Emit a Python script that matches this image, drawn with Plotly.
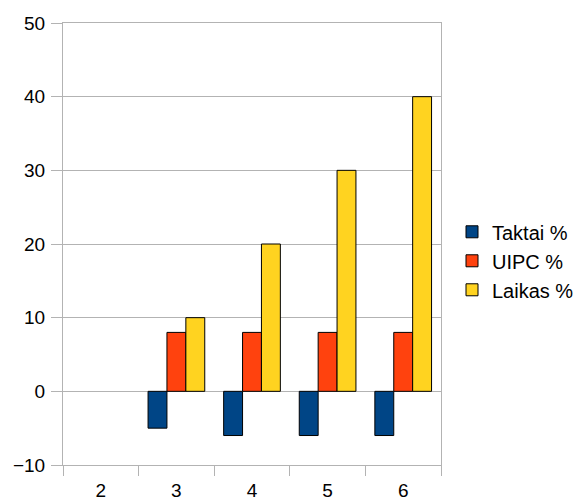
import plotly.graph_objects as go

# Category labels and series values
categories = ["2", "3", "4", "5", "6"]
taktai = [None, -5, -6, -6, -6]
uipc = [None, 8, 8, 8, 8]
laikas = [None, 10, 20, 30, 40]

series_names = ["Taktai %", "UIPC %", "Laikas %"]
series_colors = ["#004586", "#ff420e", "#ffd320"]

fig = go.Figure()
for name, vals, color in zip(series_names, [taktai, uipc, laikas], series_colors):
    fig.add_trace(go.Bar(
        x=categories, y=vals, name=name,
        marker=dict(color=color, line=dict(color="#000000", width=1)),
    ))

W, H = 579, 504
ML, MT, MB = 63, 23, 39
plot_right = 441
grid = "#b3b3b3"

fig.update_layout(
    width=W, height=H,
    margin=dict(l=ML, r=0, t=MT, b=MB),
    paper_bgcolor="white", plot_bgcolor="white",
    barmode="group", bargap=0.25, bargroupgap=0,
    font=dict(family="Liberation Sans, Arial, sans-serif", size=19, color="#000000"),
    showlegend=True,
    legend=dict(
        x=(452 - ML) / (W - ML), xanchor="left", y=0.462, yanchor="middle",
        font=dict(size=20), bgcolor="rgba(0,0,0,0)",
        tracegroupgap=0, itemclick=False,
    ),
)
fig.update_xaxes(
    domain=[0, (plot_right - ML) / (W - ML)], automargin=False,
    type="category", tickson="boundaries", ticks="outside", ticklen=10,
    tickcolor=grid, showline=True, linecolor=grid, linewidth=1, mirror=True,
    showgrid=False, zeroline=False, ticklabelstandoff=8,
)
fig.update_yaxes(
    range=[-10, 50], dtick=10, tick0=0, ticks="outside", ticklen=11,
    tickcolor=grid, showline=True, linecolor=grid, linewidth=1, mirror=True,
    showgrid=True, gridcolor=grid, gridwidth=1, automargin=False,
    zeroline=True, zerolinecolor=grid, zerolinewidth=1,
    ticklabelstandoff=2,
)

fig.write_html("out.html")
